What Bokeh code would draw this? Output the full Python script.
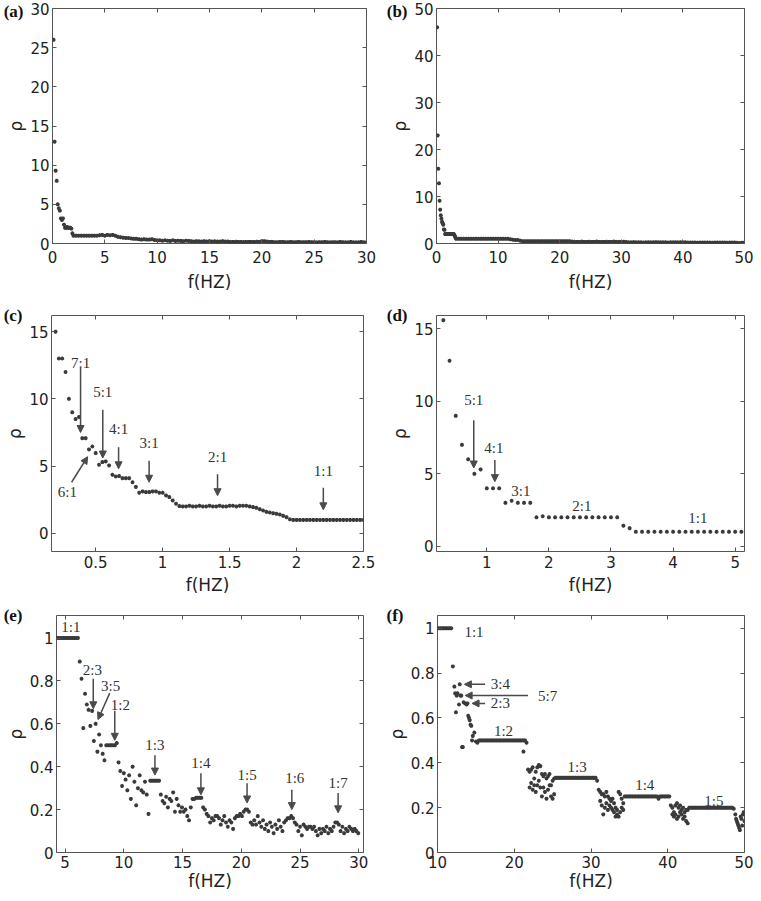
import numpy as np
from bokeh.plotting import figure
from bokeh.layouts import row, column
from bokeh.models import (Range1d, FixedTicker, LinearAxis, Arrow, NormalHead,
                          CustomJSTickFormatter, ColumnDataSource)
from bokeh.core.properties import value
from bokeh.embed import file_html
from bokeh.resources import INLINE

# ======================= DATA =======================
# (a) rho vs f, 0-30 Hz
a_head_f = [0.1, 0.2, 0.3, 0.4, 0.5, 0.6, 0.7, 0.8, 0.9, 1.0,
            1.1, 1.2, 1.3, 1.4, 1.5, 1.6, 1.7, 1.8, 1.9]
a_head_rho = [26.0, 13.0, 9.3, 8.0, 5.0, 4.5, 4.2, 3.2, 3.0, 3.2,
              2.4, 2.0, 2.0, 2.1, 2.0, 2.0, 2.0, 1.9, 1.3]
a_tail_f0, a_tail_step = 2.0, 0.25
a_tail_rho = [1.0, 1.0, 1.0, 1.0, 1.0, 1.0, 1.0, 1.0, 1.0, 1.0, 1.05, 1.1, 1.0, 1.1, 1.05, 1.1, 1.0,
              0.85, 0.8, 0.75, 0.7, 0.7, 0.65, 0.6, 0.6,
              0.55, 0.5, 0.55, 0.5, 0.5, 0.55, 0.45,
              0.4, 0.4, 0.35, 0.4, 0.35, 0.33, 0.4, 0.33, 0.35, 0.33, 0.3, 0.35, 0.33,
              0.3, 0.25, 0.3, 0.28, 0.25, 0.3, 0.25, 0.3, 0.25, 0.28, 0.25, 0.25, 0.3, 0.25, 0.25, 0.2,
              0.2, 0.22, 0.2, 0.2, 0.18, 0.2, 0.2, 0.2, 0.2, 0.22, 0.2, 0.3,
              0.3, 0.25, 0.2, 0.2, 0.17, 0.17, 0.2, 0.2, 0.17, 0.17, 0.2, 0.17, 0.17, 0.2, 0.17, 0.17,
              0.17, 0.2, 0.17, 0.17, 0.15, 0.17, 0.17, 0.2, 0.17, 0.15, 0.17, 0.17, 0.15, 0.2, 0.17,
              0.15, 0.15, 0.2, 0.15, 0.15, 0.15, 0.2, 0.15, 0.15]

# (b) rho vs f, 0-50 Hz
b_head_f0, b_head_step = 0.1, 0.1
b_head_rho = [46.0, 23.0, 15.9, 12.8, 9.1, 7.2, 6.0, 5.3, 4.6, 4.3, 4.0, 3.0, 2.9,
              2.0, 2.0, 2.0, 2.0, 2.0, 2.0, 2.0, 2.0, 2.0, 2.0, 2.0, 2.0, 2.0, 2.0, 2.0,
              1.8, 1.5, 1.2]
b_tail_f0, b_tail_step = 3.2, 0.4
b_tail_rho = [1.0, 1.0, 1.0, 1.0, 1.0, 1.0, 1.0, 1.0, 1.0, 1.0, 1.0, 1.0, 1.0, 1.0, 1.0, 1.0,
              1.0, 1.0, 1.0, 1.0, 1.0, 1.0,
              0.9, 0.8, 0.75, 0.75, 0.6,
              0.5, 0.5, 0.5, 0.5, 0.5, 0.5, 0.5, 0.5, 0.5, 0.5, 0.5, 0.5, 0.5, 0.5, 0.5, 0.5,
              0.5, 0.5, 0.5, 0.5,
              0.4, 0.35, 0.33, 0.33, 0.4, 0.33, 0.33, 0.35, 0.33, 0.33, 0.4, 0.33, 0.33, 0.33,
              0.35, 0.33, 0.33, 0.4, 0.33, 0.33, 0.33, 0.35, 0.3,
              0.25, 0.25, 0.28, 0.25, 0.25, 0.25, 0.22, 0.25, 0.25, 0.25, 0.25, 0.28, 0.25,
              0.25, 0.25, 0.25, 0.22, 0.25, 0.25, 0.25, 0.25, 0.25, 0.25, 0.25, 0.22,
              0.2, 0.2, 0.2, 0.17, 0.2, 0.2, 0.2, 0.2, 0.2, 0.17, 0.2, 0.2, 0.2, 0.2, 0.2,
              0.17, 0.2, 0.2, 0.2,
              0.15, 0.1, 0.15, 0.2]

# (c) rho vs f, 0.2-2.5 Hz
c_f0, c_step = 0.2, 0.025
c_rho = [15.0, 13.0, 13.0, 12.0, 10.0, 9.0, 8.5, 8.65, 7.08, 7.08, 6.24, 6.46, 5.97, 5.1,
         5.3, 5.35, 5.05, 4.36, 4.23, 4.26, 4.1, 4.1, 4.1, 3.8, 3.45, 3.02, 3.12, 3.07,
         3.07, 3.12, 3.12, 3.02, 3.02, 2.82, 2.7, 2.45, 2.2, 2.03,
         2.0, 2.0, 2.05, 2.0, 2.0, 2.05, 2.0, 2.0, 2.05, 2.0, 2.0, 2.05, 2.0, 2.0, 2.05,
         2.05, 2.0, 2.05, 2.05, 2.05, 2.0, 1.95,
         1.9, 1.8, 1.7, 1.6, 1.55, 1.5, 1.45, 1.4, 1.3, 1.2, 1.05,
         1.0, 1.0, 1.0, 1.0, 1.0, 1.0, 1.0, 1.0, 1.0, 1.0, 1.0, 1.0, 1.0, 1.0, 1.0, 1.0,
         1.0, 1.0, 1.0, 1.0, 1.0, 1.0]
c_labels = ["7:1", "5:1", "4:1", "3:1", "2:1", "1:1", "6:1"]
c_label_f = [0.387, 0.553, 0.671, 0.899, 1.41, 2.20, 0.289]
c_label_rho = [12.7, 10.5, 7.75, 6.7, 5.65, 4.65, 3.05]
c_arrow_f0 = [0.387, 0.553, 0.671, 0.899, 1.41, 2.20, 0.32]
c_arrow_rho0 = [12.3, 9.2, 6.4, 5.4, 4.4, 3.4, 3.8]
c_arrow_f1 = [0.387, 0.553, 0.671, 0.899, 1.41, 2.20, 0.44]
c_arrow_rho1 = [7.5, 5.6, 4.8, 3.8, 2.8, 1.75, 5.7]

# (d) rho vs f, 0.3-5.1 Hz
d_f0, d_step = 0.3, 0.1
d_rho = [15.6, 12.8, 9.0, 7.0, 6.0, 5.0, 5.3, 4.0, 4.0, 4.0, 3.0, 3.14, 3.0, 3.0, 3.0,
         2.0, 2.07, 2.0, 2.0, 2.0, 2.0, 2.0, 2.0, 2.0, 2.0, 2.0, 2.0, 2.0, 2.0,
         1.42, 1.25,
         1.0, 1.0, 1.0, 1.0, 1.0, 1.0, 1.0, 1.0, 1.0, 1.0, 1.0, 1.0, 1.0, 1.0, 1.0, 1.0,
         1.0, 1.0]
d_labels = ["5:1", "4:1", "3:1", "2:1", "1:1"]
d_label_f = [0.79, 1.115, 1.55, 2.53, 4.4]
d_label_rho = [10.07, 6.76, 3.78, 2.8, 1.95]
d_arrow_f0 = [0.79, 1.13]
d_arrow_rho0 = [8.7, 5.95]
d_arrow_f1 = [0.79, 1.13]
d_arrow_rho1 = [5.4, 4.46]

# (e) rho vs f, 4.3-30 Hz
e_f0, e_step = 4.3, 0.15
e_rho = [1.0, 1.0, 1.0, 1.0, 1.0, 1.0, 1.0, 1.0, 1.0, 1.0, 1.0, 1.0, 1.0,
         0.89, 0.81, 0.58, 0.74, 0.69, 0.665, 0.59, 0.66, 0.52, 0.60, 0.47, 0.55, 0.50,
         0.46, 0.43, 0.50, 0.50, 0.50, 0.50, 0.50, 0.50, 0.51,
         0.42, 0.38, 0.31, 0.37, 0.34, 0.29, 0.36, 0.25, 0.40, 0.33, 0.22, 0.30, 0.36,
         0.29, 0.28, 0.33, 0.27, 0.18,
         0.335, 0.335, 0.335, 0.335, 0.335, 0.335,
         0.27, 0.24, 0.23, 0.26, 0.21, 0.25, 0.24, 0.28, 0.19, 0.25, 0.22, 0.19, 0.21,
         0.19, 0.20, 0.17, 0.15, 0.21,
         0.25, 0.25, 0.255, 0.255, 0.255, 0.255,
         0.21, 0.20, 0.18, 0.17, 0.14, 0.16, 0.15, 0.17, 0.17, 0.16, 0.13, 0.15, 0.17,
         0.14, 0.12, 0.15, 0.14, 0.11, 0.16, 0.17, 0.17, 0.18, 0.17, 0.19, 0.20, 0.20, 0.19,
         0.14, 0.13, 0.15, 0.13, 0.17, 0.14, 0.12, 0.15, 0.11, 0.13, 0.10, 0.14, 0.12,
         0.09, 0.13, 0.11, 0.15, 0.12, 0.10, 0.14, 0.15, 0.16, 0.16, 0.17, 0.16, 0.14, 0.13,
         0.10, 0.12, 0.08, 0.13, 0.12, 0.11, 0.12, 0.12, 0.11, 0.12, 0.10, 0.08, 0.11,
         0.09, 0.11, 0.10, 0.12, 0.09, 0.11, 0.10, 0.12, 0.14, 0.14, 0.13, 0.10, 0.12,
         0.09, 0.11, 0.10, 0.12, 0.11, 0.10, 0.11, 0.10, 0.09]
e_labels = ["1:1", "2:3", "3:5", "1:2", "1:3", "1:4", "1:5", "1:6", "1:7"]
e_label_f = [5.5, 7.32, 8.87, 9.7, 12.65, 16.56, 20.49, 24.55, 28.24]
e_label_rho = [1.053, 0.85, 0.774, 0.688, 0.50, 0.415, 0.361, 0.346, 0.326]
e_arrow_f0 = [7.4, 8.8, 9.23, 12.65, 16.56, 20.49, 24.3, 28.24]
e_arrow_rho0 = [0.81, 0.743, 0.661, 0.454, 0.369, 0.323, 0.292, 0.277]
e_arrow_f1 = [7.4, 7.8, 9.23, 12.65, 16.56, 20.49, 24.3, 28.24]
e_arrow_rho1 = [0.67, 0.62, 0.523, 0.361, 0.269, 0.231, 0.2, 0.185]

# (f) rho vs f, 10-50 Hz
f_f0, f_step = 10.0, 0.2
f_rho = [1.0, 1.0, 1.0, 1.0, 1.0, 1.0, 1.0, 1.0, 1.0, 1.0,
         0.83, 0.74, 0.625, 0.71, 0.66, 0.70, 0.47, 0.67, 0.665, 0.66, 0.61, 0.59, 0.565,
         0.52, 0.535, 0.495, 0.49,
         0.50, 0.50, 0.50, 0.50, 0.50, 0.50, 0.50, 0.50, 0.50, 0.50, 0.50, 0.50, 0.50, 0.50,
         0.50, 0.50, 0.50, 0.50, 0.50, 0.50, 0.50, 0.50, 0.50, 0.50, 0.50, 0.50, 0.50, 0.50,
         0.50, 0.50, 0.50, 0.49,
         0.37, 0.36, 0.37, 0.38, 0.33, 0.36, 0.38, 0.39, 0.385, 0.35, 0.34, 0.35, 0.33,
         0.34, 0.35, 0.30, 0.32, 0.33,
         0.333, 0.333, 0.333, 0.333, 0.333, 0.333, 0.333, 0.333, 0.333, 0.333, 0.333, 0.333,
         0.333, 0.333, 0.333, 0.333, 0.333, 0.333, 0.333, 0.333, 0.333, 0.333, 0.333, 0.333,
         0.333, 0.333, 0.333,
         0.32, 0.28, 0.27, 0.26, 0.26, 0.25, 0.27, 0.25, 0.24, 0.23, 0.24, 0.22, 0.20, 0.19,
         0.27, 0.26, 0.24, 0.22,
         0.25, 0.25, 0.25, 0.25, 0.25, 0.25, 0.25, 0.25, 0.25, 0.25, 0.25, 0.25, 0.25, 0.25,
         0.25, 0.25, 0.25, 0.25, 0.25, 0.25, 0.25, 0.25, 0.24, 0.25, 0.25, 0.25, 0.25, 0.25,
         0.25, 0.25,
         0.21, 0.20, 0.18, 0.21, 0.22, 0.20, 0.21, 0.19, 0.20, 0.18, 0.19, 0.19,
         0.20, 0.20, 0.20, 0.20, 0.20, 0.20, 0.20, 0.20, 0.20, 0.20, 0.20, 0.20, 0.20, 0.20,
         0.20, 0.20, 0.20, 0.20, 0.20, 0.20, 0.20, 0.20, 0.20, 0.20, 0.20, 0.20, 0.20, 0.20,
         0.20, 0.195,
         0.17, 0.14, 0.12, 0.10, 0.15, 0.17, 0.14]
f_extra_f = [12.3, 12.5, 12.9, 13.1, 13.3, 13.9, 14.1, 14.3, 14.5, 21.2,
             22.0, 22.2, 22.4, 22.6, 22.8, 23.0, 23.2, 23.4, 23.6, 23.8, 24.0, 24.2, 24.4,
             24.6, 24.8, 25.0, 25.2,
             31.2, 31.4, 31.6, 31.8, 32.0, 32.2, 32.4, 32.6, 32.8, 33.0, 33.2, 33.4, 33.6,
             33.8, 34.0, 34.2,
             40.6, 40.8, 41.0, 41.2, 41.4, 41.6, 41.8, 42.0, 42.2, 42.4, 42.6,
             48.9, 49.1, 49.3, 49.5, 49.7, 49.9]
f_extra_rho = [0.71, 0.70, 0.75, 0.70, 0.47, 0.665, 0.60, 0.57, 0.50, 0.45,
               0.29, 0.31, 0.28, 0.30, 0.27, 0.30, 0.32, 0.29, 0.25, 0.29, 0.27, 0.24, 0.28,
               0.30, 0.25, 0.24, 0.26,
               0.23, 0.21, 0.17, 0.20, 0.22, 0.19, 0.21, 0.20, 0.19, 0.18, 0.16, 0.17, 0.16,
               0.18, 0.20, 0.19,
               0.17, 0.16, 0.17, 0.15, 0.16, 0.18, 0.17, 0.15, 0.16, 0.14, 0.13,
               0.15, 0.13, 0.11, 0.16, 0.12, 0.18]
f_labels_center = ["1:1", "1:2", "1:3", "1:4", "1:5"]
f_label_center_f = [14.76, 18.6, 28.2, 37.0, 46.0]
f_label_center_rho = [0.985, 0.543, 0.382, 0.30, 0.228]
f_labels_left = ["3:4", "5:7", "2:3"]
f_label_left_f = [16.95, 23.1, 16.95]
f_label_left_rho = [0.75, 0.70, 0.665]
f_arrow_f0 = [16.2, 21.8, 16.2]
f_arrow_rho0 = [0.75, 0.70, 0.665]
f_arrow_f1 = [13.5, 13.6, 14.5]
f_arrow_rho1 = [0.75, 0.70, 0.665]

# ======================= STYLE =======================
MARK = "#3a3a3a"
ARROW = "#4a4a4a"
FRAME = "#555555"
TXT = "#222222"


def sweep(f0, step, rho):
    return list(np.round(f0 + step * np.arange(len(rho)), 4))


def make_panel(w, h, xr, yr, xticks, yticks, bl, br, bt, bb, lab_so, ax_so):
    p = figure(width=w, height=h, x_range=Range1d(*xr), y_range=Range1d(*yr),
               output_backend="svg", toolbar_location=None, tools="",
               min_border_left=bl, min_border_right=br, min_border_top=bt,
               min_border_bottom=bb, x_axis_label="f(HZ)", y_axis_label="ρ")
    p.grid.visible = False
    p.outline_line_color = FRAME
    p.outline_line_width = 1
    for ax, ticks in ((p.xaxis[0], xticks), (p.yaxis[0], yticks)):
        ax.ticker = FixedTicker(ticks=ticks)
        ax.formatter = CustomJSTickFormatter(code="return String(tick);")
        ax.major_tick_in = 4
        ax.major_tick_out = 0
        ax.minor_tick_line_color = None
        ax.major_tick_line_color = FRAME
        ax.axis_line_color = None
        ax.major_label_text_font = "DejaVu Sans"
        ax.major_label_text_font_size = "15px"
        ax.major_label_text_color = TXT
        ax.major_label_standoff = lab_so
        ax.axis_label_text_font = "DejaVu Sans"
        ax.axis_label_text_font_size = "17px"
        ax.axis_label_text_font_style = "normal"
        ax.axis_label_text_color = TXT
        ax.axis_label_standoff = ax_so
    p.yaxis[0].major_label_standoff = 3
    p.yaxis[0].axis_label_standoff = 1
    for loc, ticks in (("above", xticks), ("right", yticks)):
        ax = LinearAxis(ticker=FixedTicker(ticks=ticks), major_label_text_font_size="0px",
                        major_label_text_color=None,
                        major_label_standoff=0, major_tick_in=4, major_tick_out=0,
                        axis_line_color=None, minor_tick_line_color=None,
                        major_tick_line_color=FRAME)
        p.add_layout(ax, loc)
    return p


def add_points(p, f, rho):
    p.scatter(f, rho, marker="asterisk", size=4, line_color=MARK, line_width=1.2)


def add_letter(p, text, yr):
    # panel letter: the single label of an extra, zero-width left axis at the frame top
    ax = LinearAxis(ticker=FixedTicker(ticks=[yr[1]]),
                    formatter=CustomJSTickFormatter(code="return '%s';" % text),
                    major_tick_in=0, major_tick_out=0,
                    major_tick_line_color=None, minor_tick_line_color=None,
                    axis_line_color=None,
                    major_label_text_font="Liberation Serif",
                    major_label_text_font_style="bold",
                    major_label_text_font_size="17px",
                    major_label_text_color="#111111",
                    major_label_standoff=-20)
    p.add_layout(ax, "left")


def add_texts(p, f, rho, labels, align="center"):
    src = ColumnDataSource(dict(f=f, rho=rho, t=labels))
    p.text(x="f", y="rho", text="t", source=src, text_font=value("Liberation Serif"),
           text_font_size=value("15px"), text_color="#333333", text_align=align,
           text_baseline="middle")


def add_arrows(p, x0, y0, x1, y1):
    src = ColumnDataSource(dict(x0=x0, y0=y0, x1=x1, y1=y1))
    p.add_layout(Arrow(source=src, x_start="x0", y_start="y0", x_end="x1", y_end="y1",
                       line_color=ARROW, line_width=1.5,
                       end=NormalHead(size=7, fill_color=ARROW, line_color=ARROW)))


LW, RW = 376, 377
H1, H2, H3 = 295, 303, 295

# ----- (a)
xa, ya = (0, 30), (0, 30)
pa = make_panel(LW, H1, xa, ya, [0, 5, 10, 15, 20, 25, 30], [0, 5, 10, 15, 20, 25, 30],
                51, 10, 8, 52, 7, 6)
add_points(pa, a_head_f, a_head_rho)
add_points(pa, sweep(a_tail_f0, a_tail_step, a_tail_rho), a_tail_rho)
add_letter(pa, "(a)", ya)

# ----- (b)
xb, yb = (0, 50), (0, 50)
pb = make_panel(RW, H1, xb, yb, [0, 10, 20, 30, 40, 50], [0, 10, 20, 30, 40, 50],
                60, 9, 8, 52, 7, 6)
add_points(pb, sweep(b_head_f0, b_head_step, b_head_rho), b_head_rho)
add_points(pb, sweep(b_tail_f0, b_tail_step, b_tail_rho), b_tail_rho)
add_letter(pb, "(b)", yb)

# ----- (c)
xc, yc = (0.17, 2.5), (-1.35, 16.2)
pc = make_panel(LW, H2, xc, yc, [0.5, 1, 1.5, 2, 2.5], [0, 5, 10, 15],
                51, 13, 20, 47, 4, 4)
add_points(pc, sweep(c_f0, c_step, c_rho), c_rho)
add_arrows(pc, c_arrow_f0, c_arrow_rho0, c_arrow_f1, c_arrow_rho1)
add_texts(pc, c_label_f, c_label_rho, c_labels)
add_letter(pc, "(c)", yc)

# ----- (d)
xd, yd = (0.19, 5.15), (-0.36, 15.92)
pd_ = make_panel(RW, H2, xd, yd, [1, 2, 3, 4, 5], [0, 5, 10, 15],
                 60, 9, 20, 47, 4, 4)
add_points(pd_, sweep(d_f0, d_step, d_rho), d_rho)
add_arrows(pd_, d_arrow_f0, d_arrow_rho0, d_arrow_f1, d_arrow_rho1)
add_texts(pd_, d_label_f, d_label_rho, d_labels)
add_letter(pd_, "(d)", yd)

# ----- (e)
xe, ye = (4.27, 30.4), (0, 1.105)
pe = make_panel(LW, H3, xe, ye, [5, 10, 15, 20, 25, 30], [0, 0.2, 0.4, 0.6, 0.8, 1],
                52, 13, 17, 37, 3, 0)
add_points(pe, sweep(e_f0, e_step, e_rho), e_rho)
add_arrows(pe, e_arrow_f0, e_arrow_rho0, e_arrow_f1, e_arrow_rho1)
add_texts(pe, e_label_f, e_label_rho, e_labels)
add_letter(pe, "(e)", ye)

# ----- (f)
xf, yf = (10, 50), (0, 1.057)
pf = make_panel(RW, H3, xf, yf, [10, 20, 30, 40, 50], [0, 0.2, 0.4, 0.6, 0.8, 1],
                61, 9, 17, 37, 3, 0)
add_points(pf, sweep(f_f0, f_step, f_rho), f_rho)
add_points(pf, f_extra_f, f_extra_rho)
add_arrows(pf, f_arrow_f0, f_arrow_rho0, f_arrow_f1, f_arrow_rho1)
add_texts(pf, f_label_center_f, f_label_center_rho, f_labels_center)
add_texts(pf, f_label_left_f, f_label_left_rho, f_labels_left, align="left")
add_letter(pf, "(f)", yf)

layout = column(row(pa, pb), row(pc, pd_), row(pe, pf))
open("out.html", "w").write(file_html(layout, INLINE))
